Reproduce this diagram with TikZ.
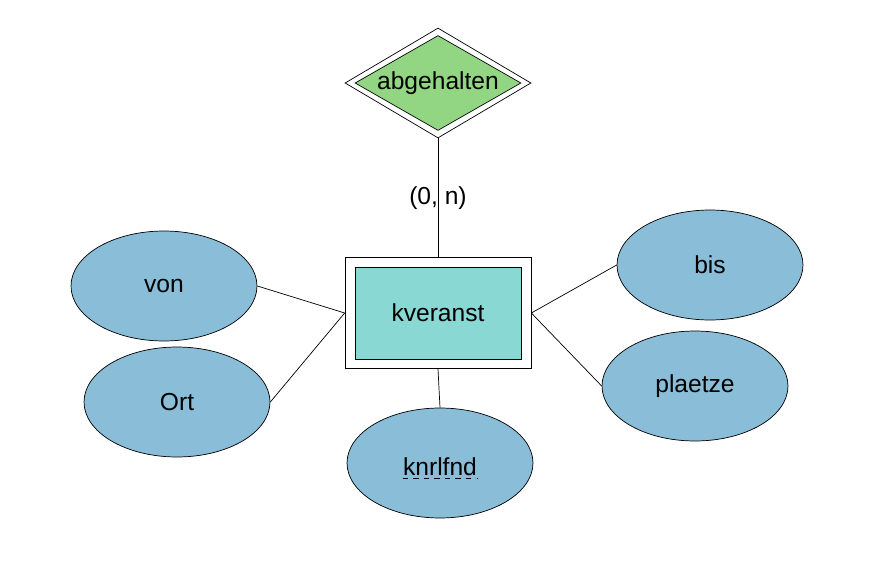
\documentclass[tikz,border=0pt]{standalone}
\usepackage{fontspec}
\setmainfont{Liberation Sans}
\usetikzlibrary{shapes.geometric}
\definecolor{relgreen}{RGB}{146,214,132}
\definecolor{entcyan}{RGB}{137,216,212}
\definecolor{attblue}{RGB}{137,189,216}
\begin{document}
\begin{tikzpicture}[x=0.02cm,y=-0.02cm,font=\fontsize{14}{17}\selectfont]

        \useasboundingbox (0,0) rectangle (886,568);

        % relationship and entity, each with a double border
        \node[diamond,draw,fill=white,aspect=1.69,inner sep=0pt,
              minimum width=3.72cm,minimum height=2.2cm] (rel) at (438,83) {};
        \node[diamond,draw,fill=relgreen,aspect=1.69,inner sep=0pt,
              minimum width=3.32cm,minimum height=1.8cm] (relin) at (438,83) {abgehalten};

        \node[rectangle,draw,fill=white,minimum width=3.72cm,minimum height=2.22cm] (ent) at (438,313) {};
        \node[rectangle,draw,fill=entcyan,minimum width=3.32cm,minimum height=1.84cm] (entin) at (438,313) {kveranst};

        \begin{scope}[every node/.style={ellipse,draw,fill=attblue,
                      minimum width=3.72cm,minimum height=2.2cm}]
          \node (von)     at (164,286) {von};
          \node (ort)     at (177,402) {Ort};
          \node (knrlfnd) at (440,463) {};
          \node (bis)     at (710,265) {bis};
          \node (plaetze) at (695,386) {plaetze};
        \end{scope}

        % key attribute, underlined with dashes
        \node[inner sep=0pt,anchor=base] (keytext) at (440,475) {knrlfnd};
        \draw[dashed,line width=0.5pt] ([yshift=-2pt]keytext.base west) -- ([yshift=-2pt]keytext.base east);

        \draw (rel.south) -- (ent.north);
        \node at (438,198) {(0, n)};

        \draw (von.east)     -- (ent.west);
        \draw (ort.east)     -- (ent.west);
        \draw (knrlfnd.north) -- (ent.south);
        \draw (bis.west)     -- (ent.east);
        \draw (plaetze.west) -- (ent.east);

      \end{tikzpicture}
\end{document}
